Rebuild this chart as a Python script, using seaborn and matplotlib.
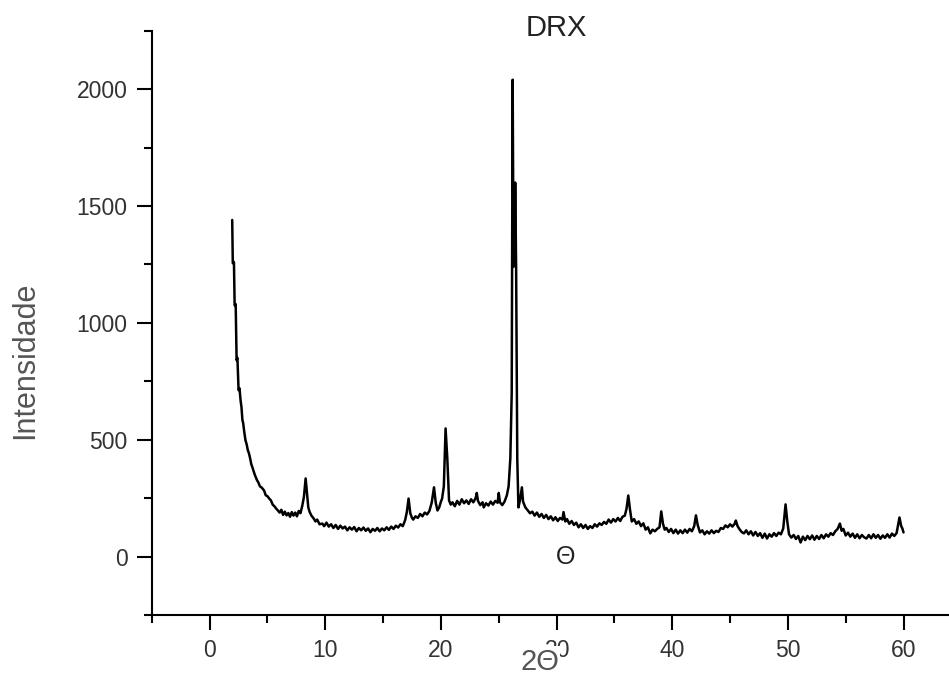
import numpy as np
import pandas as pd
import seaborn as sns
import matplotlib.pyplot as plt
from matplotlib.ticker import MultipleLocator

# 2-theta (degrees) and intensity
two_theta = [
    1.95, 2.0, 2.1, 2.16, 2.25, 2.33, 2.4, 2.5, 2.58, 2.68, 2.75, 2.83, 2.9, 3.0, 3.1, 3.2, 3.3, 3.4,
    3.5, 3.6, 3.7, 3.8, 3.9, 4.0, 4.1, 4.2, 4.35, 4.5, 4.7, 4.85, 5.0, 5.15, 5.3, 5.45, 5.6, 5.75,
    5.9, 6.05, 6.2, 6.35, 6.5, 6.65, 6.8, 6.95, 7.1, 7.25, 7.4, 7.55, 7.7, 7.85, 8.0, 8.15, 8.3,
    8.4, 8.53, 8.65, 8.8, 8.99, 9.15, 9.3, 9.5, 9.74, 9.9,
    10.1, 10.3, 10.5, 10.7, 10.9, 11.1, 11.3, 11.5, 11.7, 11.9, 12.1, 12.3, 12.5, 12.7, 12.9, 13.1,
    13.3, 13.5, 13.7, 13.9, 14.1, 14.3, 14.5, 14.7, 14.9, 15.1, 15.3, 15.5, 15.7, 15.9, 16.1, 16.3,
    16.5, 16.7, 16.9, 17.05, 17.2, 17.35, 17.5, 17.6, 17.8, 18.0, 18.2, 18.4, 18.6, 18.8, 19.0,
    19.2, 19.4, 19.55, 19.7, 19.85, 20.0, 20.1, 20.25, 20.4, 20.55, 20.7, 20.85, 21.0, 21.2, 21.4,
    21.6, 21.8, 22.0, 22.2, 22.4, 22.6, 22.8, 23.0, 23.1, 23.2, 23.4, 23.6, 23.7, 23.9, 24.1, 24.3,
    24.5, 24.7, 24.9, 25.0, 25.1, 25.3, 25.5, 25.7, 25.85, 26.0, 26.12, 26.2, 26.28, 26.36, 26.42,
    26.5, 26.6, 26.7, 26.85, 27.0, 27.1, 27.3, 27.5, 27.7, 27.9, 28.1, 28.3, 28.5, 28.7, 28.9,
    29.1, 29.3, 29.5, 29.7, 29.9, 30.1, 30.3, 30.5, 30.6, 30.75, 30.9, 31.1, 31.3, 31.5, 31.7,
    31.9, 32.1, 32.3, 32.5, 32.7, 32.9, 33.1, 33.3, 33.5, 33.7, 33.9, 34.1, 34.3, 34.5, 34.7,
    34.9, 35.1, 35.3, 35.5, 35.7, 35.9, 36.05, 36.2, 36.35, 36.5, 36.7, 36.9, 37.1, 37.3, 37.5,
    37.7, 37.9, 38.1, 38.3, 38.5, 38.7, 38.9, 39.05, 39.2, 39.35, 39.5, 39.7, 39.9, 40.1, 40.3,
    40.5, 40.7, 40.9, 41.1, 41.3, 41.5, 41.7, 41.9, 42.05, 42.2, 42.4, 42.6, 42.8, 43.0, 43.2,
    43.4, 43.6, 43.8, 44.0, 44.2, 44.4, 44.6, 44.8, 45.0, 45.2, 45.4, 45.5, 45.65, 45.8, 46.0,
    46.2, 46.4, 46.6, 46.8, 47.0, 47.2, 47.4, 47.6, 47.8, 48.0, 48.2, 48.4, 48.6, 48.8, 49.0,
    49.2, 49.4, 49.6, 49.8, 49.95, 50.1, 50.3, 50.5, 50.7, 50.9, 51.1, 51.3, 51.5, 51.7, 51.9,
    52.1, 52.3, 52.5, 52.7, 52.9, 53.1, 53.3, 53.5, 53.7, 53.9, 54.1, 54.3, 54.5, 54.65, 54.8,
    55.0, 55.2, 55.4, 55.6, 55.8, 56.0, 56.2, 56.4, 56.6, 56.8, 57.0, 57.2, 57.4, 57.6, 57.8,
    58.0, 58.2, 58.4, 58.6, 58.8, 59.0, 59.2, 59.4, 59.55, 59.65, 59.8, 59.9, 60.0,
]
intensity = [
    1440, 1255, 1260, 1075, 1080, 840, 850, 712, 720, 665, 640, 585, 570, 530, 497, 480, 455, 441,
    420, 395, 381, 365, 350, 338, 326, 318, 300, 295, 283, 262, 258, 248, 240, 222, 215, 205,
    197, 188, 200, 178, 192, 176, 186, 170, 190, 175, 188, 172, 195, 185, 215, 255, 334,
    280, 210, 190, 175, 163, 150, 158, 138, 141, 130,
    145, 128, 138, 122, 135, 118, 132, 120, 128, 112, 125, 115, 126, 108, 122, 112,
    124, 110, 120, 104, 118, 110, 122, 108, 120, 112, 125, 114, 128, 118, 132, 124,
    138, 130, 155, 190, 248, 185, 165, 158, 172, 165, 182, 172, 188, 180, 195,
    230, 296, 230, 197, 210, 235, 248, 300, 548, 420, 240, 222, 232, 215, 238,
    222, 245, 228, 240, 225, 245, 232, 250, 272, 238, 220, 232, 210, 228, 218, 235,
    222, 238, 230, 272, 232, 220, 235, 262, 300, 420, 700, 2040, 1240, 1250, 1600,
    1240, 420, 210, 245, 296, 235, 210, 198, 185, 192, 175, 188, 170, 182, 165,
    178, 160, 172, 155, 168, 152, 165, 158, 190, 150, 160, 140, 152, 135, 145,
    125, 138, 122, 135, 118, 130, 122, 138, 128, 142, 135, 148, 140, 158, 145,
    160, 150, 165, 152, 170, 175, 205, 261, 200, 150, 160, 140, 150, 130, 142,
    115, 125, 99, 115, 108, 118, 125, 193, 140, 115, 122, 105, 118, 100, 115,
    98, 112, 100, 115, 102, 118, 108, 130, 176, 135, 103, 112, 95, 108, 98,
    112, 100, 110, 105, 122, 118, 133, 125, 138, 128, 140, 154, 130, 118, 105,
    99, 112, 95, 108, 90, 105, 88, 100, 80, 98, 77, 95, 85, 100, 88,
    102, 95, 120, 223, 150, 95, 81, 92, 75, 88, 60, 85, 70, 88, 74,
    90, 72, 88, 75, 92, 78, 95, 85, 100, 92, 108, 118, 141, 110, 118,
    90, 102, 85, 98, 80, 95, 78, 92, 82, 77, 92, 78, 95, 80, 92,
    76, 90, 80, 95, 81, 98, 88, 100, 140, 167, 130, 120, 103,
]

x_ticks = [0, 10, 20, 30, 40, 50, 60]
y_ticks = [0, 500, 1000, 1500, 2000]

df = pd.DataFrame({"two_theta": two_theta, "intensity": intensity})

sns.set_style("ticks")
plt.rcParams["font.family"] = ["Liberation Sans", "DejaVu Sans"]

fig = plt.figure(figsize=(9.49, 6.81), dpi=100)
ax = fig.add_axes([0.160, 0.097, 0.853, 0.858])

sns.lineplot(data=df, x="two_theta", y="intensity", color="black", linewidth=1.8,
             sort=False, estimator=None, ax=ax)

ax.set_xlim(-5, 65)
ax.set_ylim(-250, 2250)
ax.set_xticks(x_ticks)
ax.set_yticks(y_ticks)
ax.xaxis.set_minor_locator(MultipleLocator(5))
ax.yaxis.set_minor_locator(MultipleLocator(250))

sns.despine(ax=ax)
for s in ["left", "bottom"]:
    ax.spines[s].set_linewidth(1.5)
    ax.spines[s].set_color("black")
ax.tick_params(which="major", direction="out", length=10.5, width=1.5, pad=7,
               labelsize=16.5, labelcolor="#333333", color="black")
ax.tick_params(which="minor", direction="out", length=6, width=1.5, color="black")

ax.set_title("DRX", fontsize=21, color="#222222", y=0.99, pad=0)
ax.set_ylabel("Intensidade", fontsize=22, color="#555555")
ax.yaxis.set_label_coords(-0.138, 0.435)
ax.set_xlabel("2Θ", fontsize=21, color="#555555",
              bbox=dict(facecolor="white", edgecolor="none", pad=1))
ax.xaxis.set_label_coords(0.479, -0.056)

ax.text(30.8, 0, "Θ", fontsize=18, color="#222222", ha="center", va="center")

fig.savefig("out.png", dpi=100)
